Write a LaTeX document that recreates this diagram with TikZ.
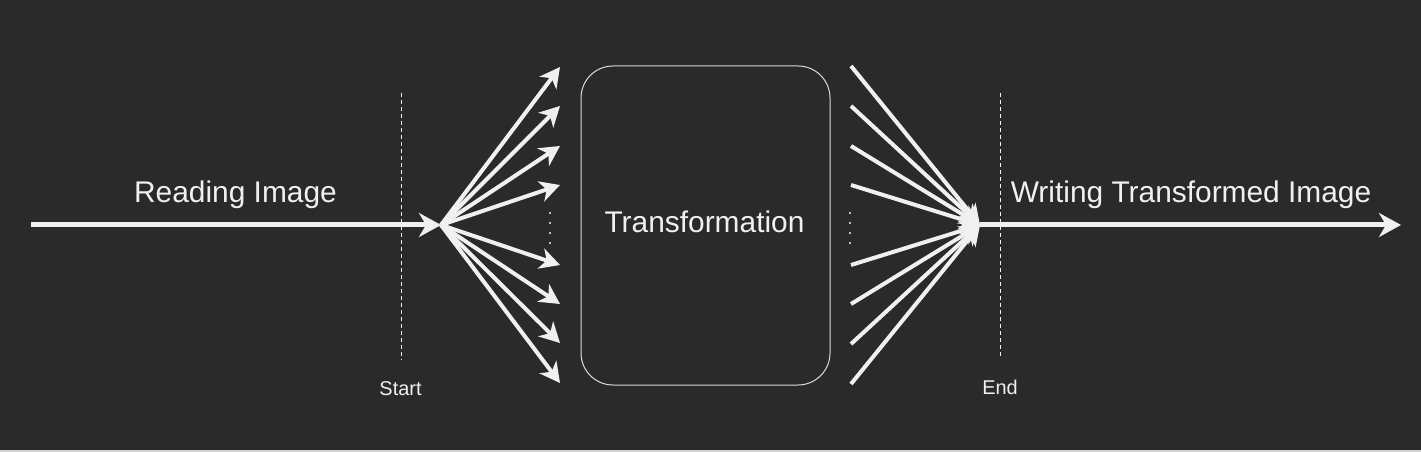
\documentclass[tikz,border=0pt]{standalone}
\usepackage{fontspec}
\setmainfont{Liberation Sans}
\usetikzlibrary{arrows.meta}
\definecolor{bg}{HTML}{2A2A2A}
\definecolor{fg}{HTML}{F0F0F0}
\tikzset{
  mainarrow/.style={draw=fg, line width=5bp, -{Stealth[length=22bp,width=24bp,inset=7bp]}},
  fanarrow/.style={draw=fg, line width=4bp, -{Stealth[length=20bp,width=21bp,inset=6bp]}},
  guide/.style={draw=fg, line width=1bp, dash pattern=on 4bp off 3bp},
  dots/.style={draw=fg, line width=2.5bp, line cap=round, dash pattern=on 0.01bp off 10bp},
  bigtext/.style={text=fg, font=\fontsize{30}{35}\selectfont, inner sep=0pt, anchor=base},
  smalltext/.style={text=fg, font=\fontsize{20}{24}\selectfont, inner sep=0pt, anchor=base},
  transbox/.style={draw=fg!90!bg, line width=1bp, rounded corners=32bp, minimum width=249bp, minimum height=319bp}
}
\begin{document}
\begin{tikzpicture}[x=1bp,y=-1bp]
\fill[bg] (0,0) rectangle (1421,452);
\useasboundingbox (0,0) rectangle (1421,452);
\draw[fg!85!bg, line width=1.5bp] (0,450.8) -- (1421,450.8);

% guides
\coordinate (s1) at (401,93); \coordinate (s2) at (401,360);
\coordinate (e1) at (1000,93); \coordinate (e2) at (1000,358);
\draw[guide] (s1) -- (s2);
\draw[guide] (e1) -- (e2);
\node[smalltext] (start) at (400.5,395) {Start};
\node[smalltext] (end) at (1000,394.5) {End};

% input
\coordinate (in) at (31,225);
\coordinate (fo) at (441,225);
\draw[mainarrow] (in) -- (fo);
\node[bigtext] (read) at (235.5,202.3) {Reading Image};

% left fan
\foreach \i/\y in {1/67,2/106,3/146,4/185,5/265,6/304,7/343,8/383}{
  \coordinate (l\i) at (560,\y);
  \draw[fanarrow] (fo) -- (l\i);
}
\coordinate (d1a) at (550,213); \coordinate (d1b) at (550,244);
\draw[dots] (d1a) -- (d1b);

% box
\node[transbox] (tr) at (705.5,225.5) {};
\node[bigtext] (trt) at (704.5,232.3) {Transformation};

% right fan
\coordinate (fc) at (980,225);
\foreach \i/\y in {1/66,2/106,3/146,4/185,5/265,6/304,7/344,8/384}{
  \coordinate (r\i) at (851,\y);
  \draw[fanarrow] (r\i) -- (fc);
}
\coordinate (d2a) at (850,213); \coordinate (d2b) at (850,244);
\draw[dots] (d2a) -- (d2b);

% output
\coordinate (out) at (1401,225);
\draw[mainarrow] (fc) -- (out);
\node[bigtext] (write) at (1191,202.3) {Writing Transformed Image};
\end{tikzpicture}
\end{document}
